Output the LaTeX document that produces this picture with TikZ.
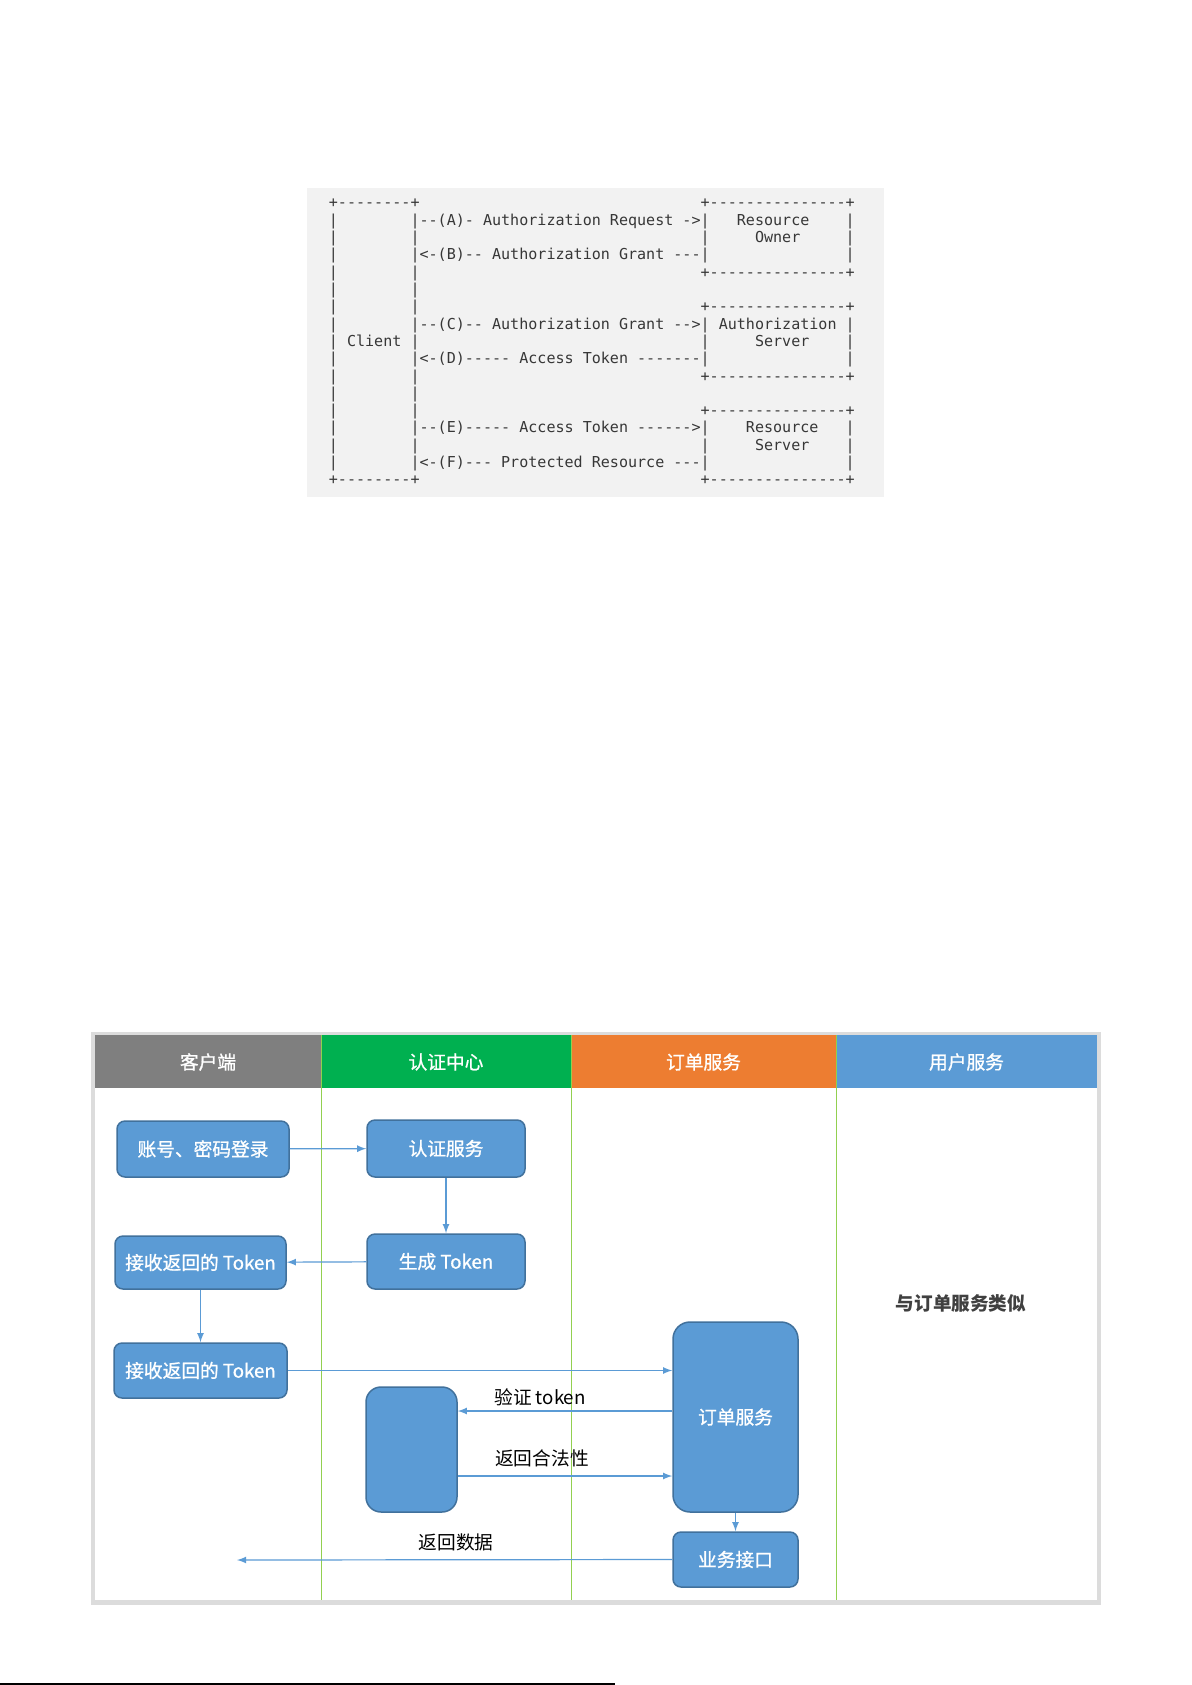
\documentclass[tikz,border=0pt]{standalone}
\usepackage{fontspec}
\setmainfont{Noto Sans CJK SC}
\setmonofont{DejaVu Sans Mono}
\newfontfamily\cjkmid{Noto Sans CJK SC}[FakeBold=1]
\usepackage{tikz}
\definecolor{asciibg}{RGB}{242,242,242}
\definecolor{asciitext}{RGB}{55,55,55}
\definecolor{headgray}{RGB}{127,127,127}
\definecolor{headgreen}{RGB}{0,176,80}
\definecolor{headorange}{RGB}{237,125,49}
\definecolor{headblue}{RGB}{91,155,213}
\definecolor{boxblue}{RGB}{91,155,213}
\definecolor{boxline}{RGB}{65,113,156}
\definecolor{lanerule}{RGB}{146,208,80}
\definecolor{framegray}{RGB}{220,220,220}
\newcommand\sk[1]{\hspace*{#1\fontcharwd\font`M}}
\tikzset{
  asciirow/.style={anchor=base west,inner sep=0pt,text=asciitext,font=\ttfamily\fontsize{7.53}{9}\selectfont},
  headtext/.style={text=white,font=\cjkmid\fontsize{9.35}{11}\selectfont},
  bluebox/.style={draw=boxline,line width=0.75pt,fill=boxblue,rounded corners=4pt,text=white,inner sep=0pt,font=\cjkmid\fontsize{9.35}{11}\selectfont},
  flowlabel/.style={text=black,inner sep=0pt,font=\fontsize{9.35}{11}\selectfont},
  flow/.style={->,>=latex,draw=boxblue,line width=0.6pt}
}
\begin{document}
\begin{tikzpicture}[x=0.5pt,y=-0.5pt]
\useasboundingbox (0,0) rectangle (1191,1685);
\fill [asciibg] (307,188) rectangle (884,497);
\foreach \txt [count=\i] in {
  {+--------+\sk{31}+---------------+},
  {|\sk{8}|--(A)-~Authorization~Request~->|\sk{3}Resource\sk{4}|},
  {|\sk{8}|\sk{31}|\sk{5}Owner\sk{5}|},
  {|\sk{8}|<-(B)--~Authorization~Grant~---|\sk{15}|},
  {|\sk{8}|\sk{31}+---------------+},
  {|\sk{8}|},
  {|\sk{8}|\sk{31}+---------------+},
  {|\sk{8}|--(C)--~Authorization~Grant~-->|~Authorization~|},
  {|~Client~|\sk{31}|\sk{5}Server\sk{4}|},
  {|\sk{8}|<-(D)-----~Access~Token~-------|\sk{15}|},
  {|\sk{8}|\sk{31}+---------------+},
  {|\sk{8}|},
  {|\sk{8}|\sk{31}+---------------+},
  {|\sk{8}|--(E)-----~Access~Token~------>|\sk{4}Resource\sk{3}|},
  {|\sk{8}|\sk{31}|\sk{5}Server\sk{4}|},
  {|\sk{8}|<-(F)---~Protected~Resource~---|\sk{15}|},
  {+--------+\sk{31}+---------------+}}
  \node [asciirow] (row\i) at (328.5,{208+(\i-1)*17.3}) {\txt};
\fill [framegray] (91,1032) rectangle (1101,1605);
\fill [white] (95,1035) rectangle (1097,1600);
\fill [headgray] (95,1035) rectangle (321,1088);
\fill [headgreen] (321,1035) rectangle (571,1088);
\fill [headorange] (571,1035) rectangle (836,1088);
\fill [headblue] (836,1035) rectangle (1097,1088);
\node [headtext] (h1) at (208,1062) {客户端};
\node [headtext] (h2) at (446,1062) {认证中心};
\node [headtext] (h3) at (703.5,1062) {订单服务};
\node [headtext] (h4) at (966.5,1062) {用户服务};
\foreach \x in {321,571,836}
  \draw [lanerule, line width=0.5pt] (\x,1035) -- (\x,1600);
\node [bluebox, minimum width=86pt, minimum height=28pt] (login) at (203,1149) {账号、密码登录};
\node [bluebox, minimum width=79pt, minimum height=28.5pt] (auth) at (446,1148.5) {认证服务};
\node [bluebox, minimum width=79pt, minimum height=27.5pt] (gen) at (446,1261.5) {生成 Token};
\node [bluebox, minimum width=85.5pt, minimum height=26.5pt] (recv1) at (200.5,1262.5) {接收返回的 Token};
\node [bluebox, minimum width=86.5pt, minimum height=27.5pt] (recv2) at (200.5,1370.5) {接收返回的 Token};
\node [bluebox, minimum width=45.5pt, minimum height=62.5pt, rounded corners=7.5pt] (check) at (411.5,1449.5) {};
\node [bluebox, minimum width=62.5pt, minimum height=95pt, rounded corners=8.5pt] (order) at (735.5,1417) {订单服务};
\node [bluebox, minimum width=62.5pt, minimum height=27.5pt] (api) at (735.5,1559.5) {业务接口};
\coordinate (verify) at (600,1411);
\coordinate (valid) at (600,1476);
\coordinate (back) at (237,1560);
\draw [flow] (login) -- (auth);
\draw [flow] (auth) -- (gen);
\draw [flow] (gen) -- (recv1);
\draw [flow] (recv1) -- (recv2);
\draw [flow] (recv2.east) -- (recv2.east -| order.west);
\draw [flow] (verify -| order.west) -- (verify -| check.east);
\draw [flow] (valid -| check.east) -- (valid -| order.west);
\draw [flow] (order) -- (api);
\draw [flow] (api.west) -- (back);
\node [flowlabel] (lverify) at (540,1397) {验证 token};
\node [flowlabel] (lvalid) at (542,1458) {返回合法性};
\node [flowlabel] (lback) at (456,1542) {返回数据};
\node [text=black!75, font=\bfseries\fontsize{9.3}{11}\selectfont] (similar) at (961,1303) {与订单服务类似};
\draw [black, line width=1pt] (0,1683.5) -- (615,1683.5);
\end{tikzpicture}
\end{document}
